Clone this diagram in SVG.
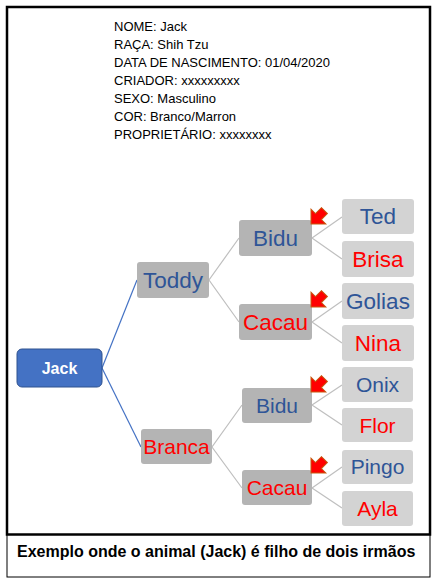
<svg xmlns="http://www.w3.org/2000/svg" xmlns:xlink="http://www.w3.org/1999/xlink" width="438" height="585" viewBox="0 0 438 585">
<style>
.info{font-family:"Liberation Sans",Arial,sans-serif;font-size:13px;fill:#000}
.mid{fill:#B4B4B4}
.leaf{fill:#D3D3D3}
.lbl{font-family:"Liberation Sans",Arial,sans-serif;font-size:22.5px;text-anchor:middle}
.lbl2{font-family:"Liberation Sans",Arial,sans-serif;font-size:21px;text-anchor:middle}
.blue{fill:#2F5597}
.red{fill:#FF0000}
.c1{stroke:#4472C4;stroke-width:1.2;fill:none}
.c2{stroke:#BFBFBF;stroke-width:1.2;fill:none}
.arr{fill:#FF0000;stroke:#C55A11;stroke-width:1}
</style>
<defs>
<polygon id="redarrow" class="arr" points="0,0 -10.5,-10.5 -10.5,-4.2 -19,-4.2 -19,4.2 -10.5,4.2 -10.5,10.5" transform="rotate(135)"/>
</defs>
<rect x="0" y="0" width="438" height="585" fill="#FFFFFF"/>
<rect x="7" y="7" width="423" height="527.5" fill="none" stroke="#000" stroke-width="2.5"/>
<rect x="7" y="534.5" width="423" height="42.5" fill="none" stroke="#000" stroke-width="1"/>
<g id="info">
<text class="info" x="114" y="31">NOME: Jack</text>
<text class="info" x="114" y="49">RAÇA: Shih Tzu</text>
<text class="info" x="114" y="67">DATA DE NASCIMENTO: 01/04/2020</text>
<text class="info" x="114" y="85">CRIADOR: xxxxxxxxx</text>
<text class="info" x="114" y="103">SEXO: Masculino</text>
<text class="info" x="114" y="121">COR: Branco/Marron</text>
<text class="info" x="114" y="139">PROPRIETÁRIO: xxxxxxxx</text>
</g>
<g id="connectors">
<line class="c1" x1="102" y1="368" x2="137" y2="280"/>
<line class="c1" x1="102" y1="368" x2="141" y2="447"/>
<polyline class="c2" points="239,238 209,280 239,322"/>
<polyline class="c2" points="242,405 212,447 242,488"/>
<polyline class="c2" points="342,217 312,238 342,259"/>
<polyline class="c2" points="342,301 312,322 342,343"/>
<polyline class="c2" points="342,385 312,405 342,425"/>
<polyline class="c2" points="342,467 312,488 342,508"/>
</g>
<g id="jack">
<rect x="17" y="349" width="85" height="38" rx="5" fill="#4472C4" stroke="#2F528F" stroke-width="1"/>
<text x="59.5" y="373.5" font-family="Liberation Sans,Arial,sans-serif" font-size="16" font-weight="bold" fill="#FFFFFF" text-anchor="middle">Jack</text>
</g>
<g id="toddy">
<rect class="mid" x="137" y="262" width="72" height="36" rx="3"/>
<text class="lbl blue" x="173" y="288">Toddy</text>
</g>
<g id="branca">
<rect class="mid" x="141" y="429" width="71" height="35" rx="3"/>
<text class="lbl2 red" x="176.5" y="454">Branca</text>
</g>
<g id="bidu1">
<rect class="mid" x="239" y="220" width="73" height="36" rx="3"/>
<text class="lbl blue" x="275.5" y="246">Bidu</text>
</g>
<g id="cacau1">
<rect class="mid" x="239" y="304" width="73" height="36" rx="3"/>
<text class="lbl red" x="275.5" y="330">Cacau</text>
</g>
<g id="bidu2">
<rect class="mid" x="242" y="388" width="70" height="35" rx="3"/>
<text class="lbl2 blue" x="277" y="413">Bidu</text>
</g>
<g id="cacau2">
<rect class="mid" x="242" y="470" width="70" height="35" rx="3"/>
<text class="lbl2 red" x="277" y="495">Cacau</text>
</g>
<g id="ted">
<rect class="leaf" x="342" y="199" width="72" height="35" rx="3"/>
<text class="lbl blue" x="378" y="224">Ted</text>
</g>
<g id="brisa">
<rect class="leaf" x="342" y="241" width="72" height="36" rx="3"/>
<text class="lbl red" x="378" y="267">Brisa</text>
</g>
<g id="golias">
<rect class="leaf" x="342" y="283" width="72" height="36" rx="3"/>
<text class="lbl blue" x="378" y="309">Golias</text>
</g>
<g id="nina">
<rect class="leaf" x="342" y="325" width="72" height="36" rx="3"/>
<text class="lbl red" x="378" y="351">Nina</text>
</g>
<g id="onix">
<rect class="leaf" x="342" y="367" width="71" height="35" rx="3"/>
<text class="lbl2 blue" x="377.5" y="392">Onix</text>
</g>
<g id="flor">
<rect class="leaf" x="342" y="408" width="71" height="34" rx="3"/>
<text class="lbl2 red" x="377.5" y="432.5">Flor</text>
</g>
<g id="pingo">
<rect class="leaf" x="342" y="450" width="71" height="34" rx="3"/>
<text class="lbl2 blue" x="377.5" y="474">Pingo</text>
</g>
<g id="ayla">
<rect class="leaf" x="342" y="491" width="71" height="35" rx="3"/>
<text class="lbl2 red" x="377.5" y="516">Ayla</text>
</g>
<g id="arrows">
<use xlink:href="#redarrow" x="311" y="224"/>
<use xlink:href="#redarrow" x="311" y="307"/>
<use xlink:href="#redarrow" x="311" y="392"/>
<use xlink:href="#redarrow" x="311" y="473"/>
</g>
<g id="caption">
<text x="17" y="557" font-family="Liberation Sans,Arial,sans-serif" font-size="16" font-weight="bold" fill="#000">Exemplo onde o animal (Jack) é filho de dois irmãos</text>
</g>
</svg>
